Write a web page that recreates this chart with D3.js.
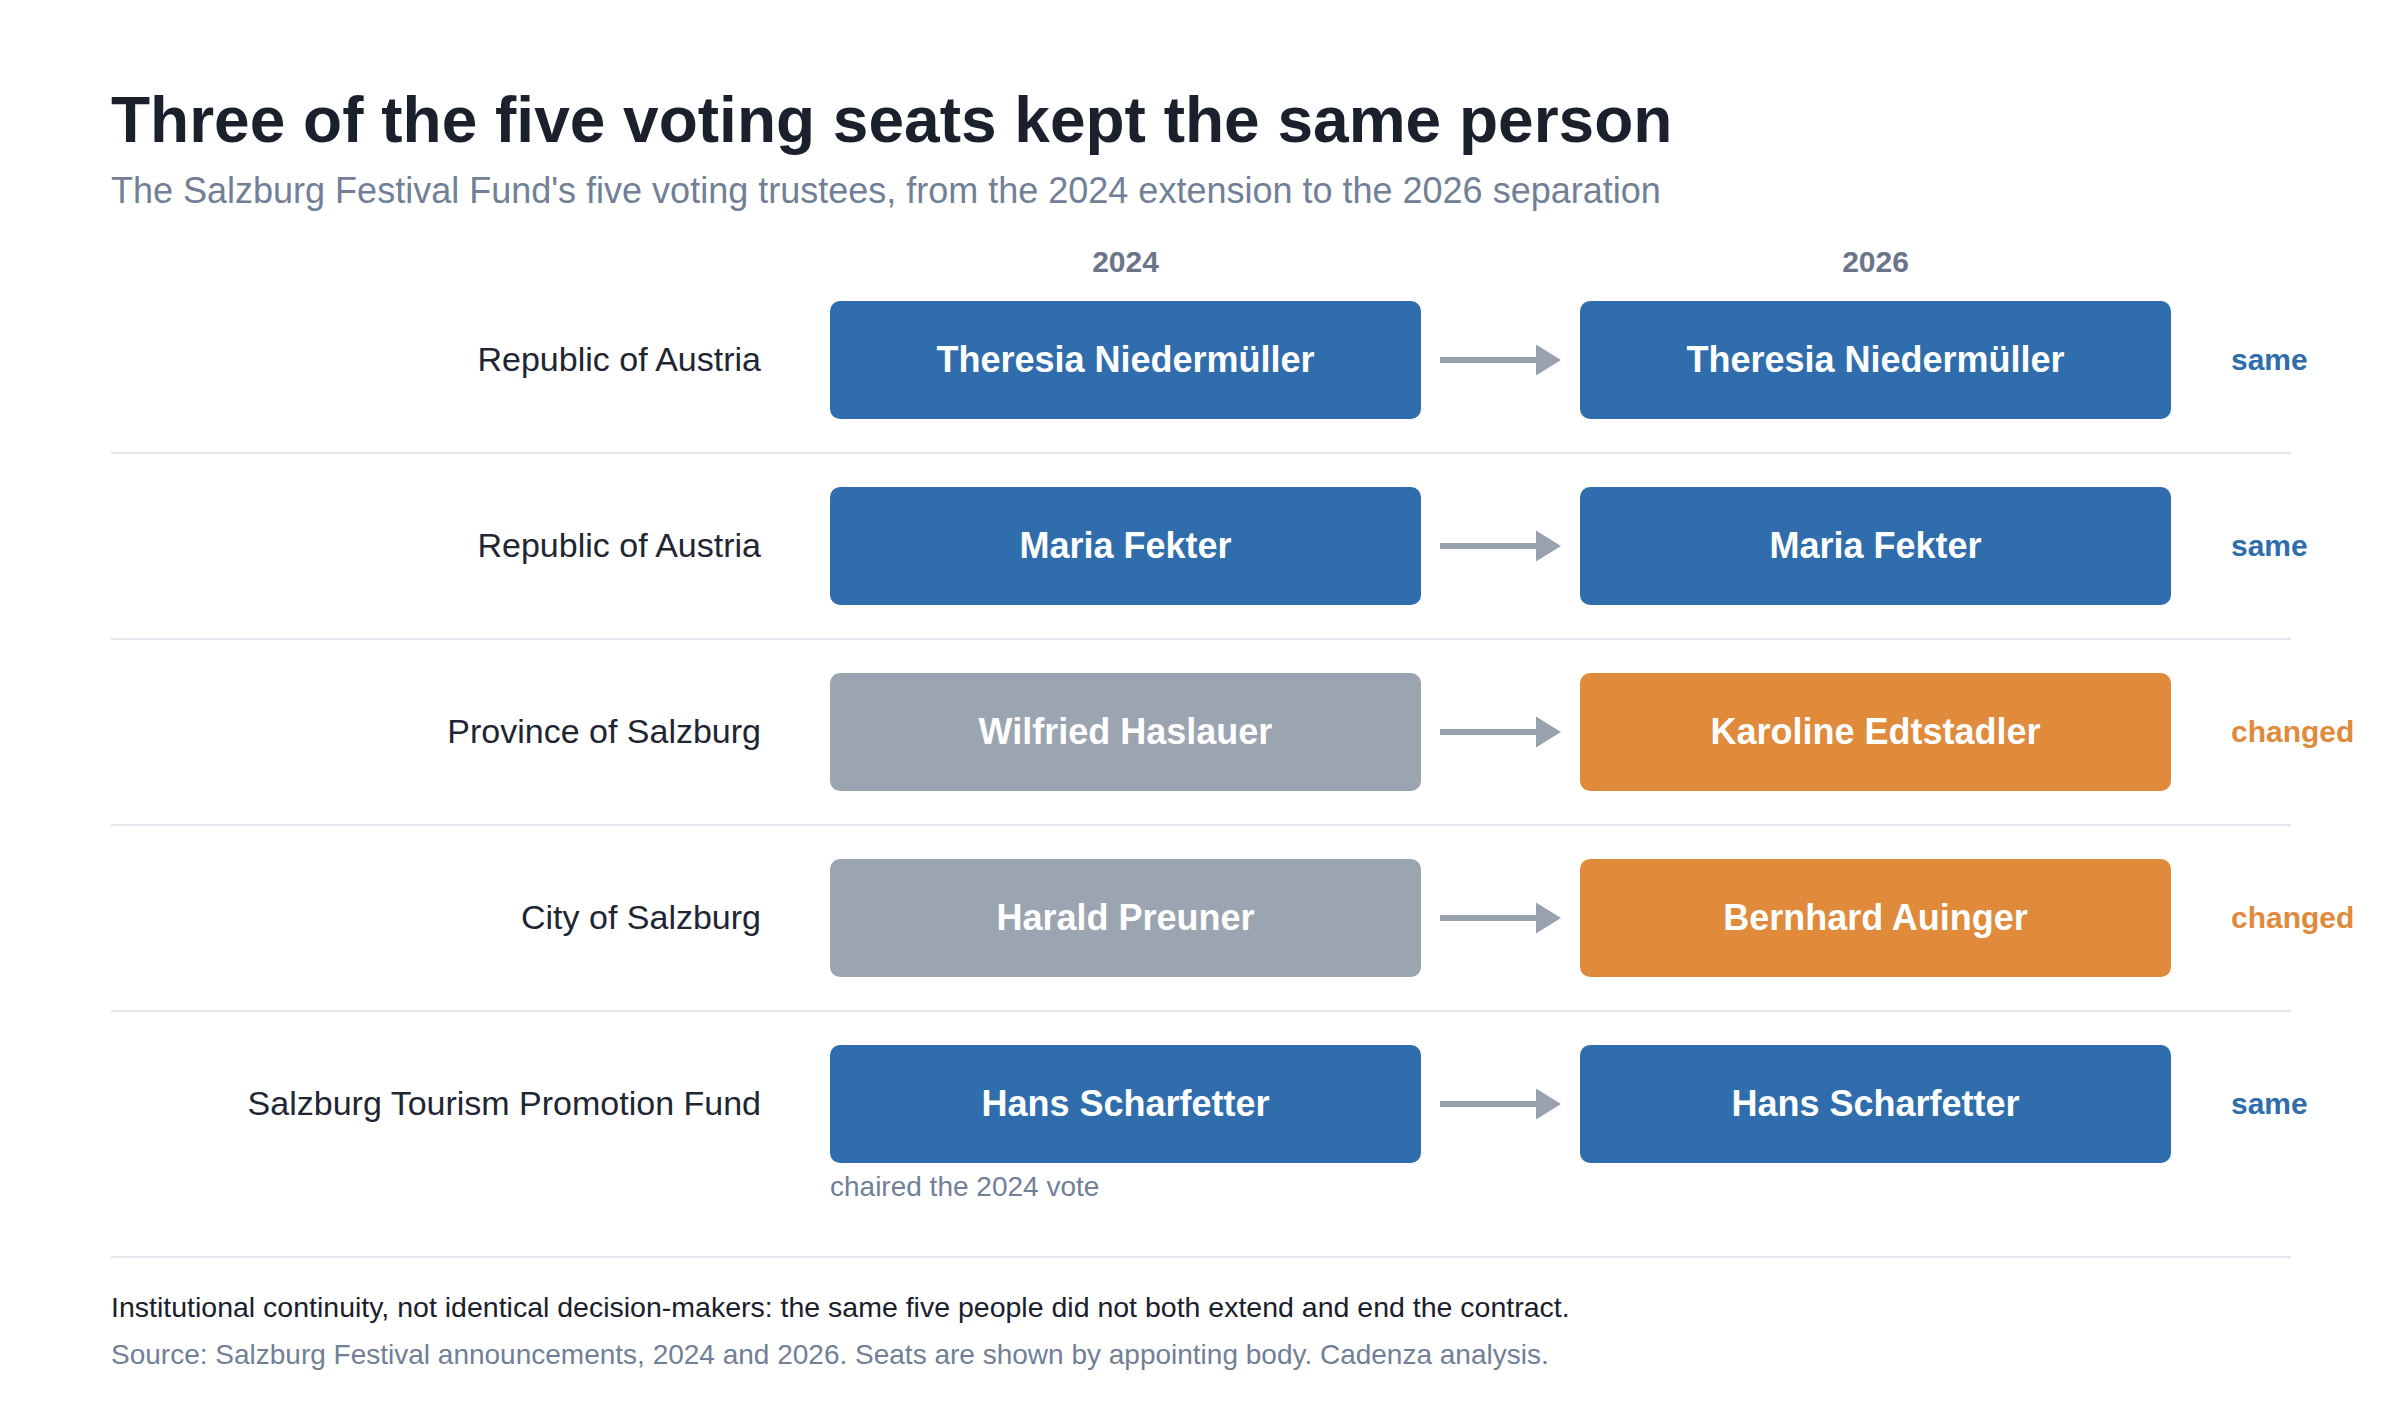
<!doctype html>
<html lang="en">
<head>
	<meta charset="utf-8">
	<title>Salzburg Festival Fund trustees</title>
	<script src="https://cdn.jsdelivr.net/npm/d3@7"></script>
	<style>
		body { margin: 0; background: #fff; }
		text { font-family: "Liberation Sans", Arial, Helvetica, sans-serif; }
	</style>
</head>
<body>
	<svg id="chart" width="2400" height="1420"></svg>
	<script>
		// seats by appointing body
		var bodies = ["Republic of Austria", "Republic of Austria", "Province of Salzburg", "City of Salzburg", "Salzburg Tourism Promotion Fund"];
		var trustees2024 = ["Theresia Niedermüller", "Maria Fekter", "Wilfried Haslauer", "Harald Preuner", "Hans Scharfetter"];
		var trustees2026 = ["Theresia Niedermüller", "Maria Fekter", "Karoline Edtstadler", "Bernhard Auinger", "Hans Scharfetter"];
		var seatStatus = ["same", "same", "changed", "changed", "same"];
		var years = ["2024", "2026"];
		var notes = ["", "", "", "", "chaired the 2024 vote"];

		var blue = "#2f6dac", grey = "#9ba5b1", orange = "#e08a3b";

		var svg = d3.select("#chart");

		// title block
		svg.append("text").attr("x", 111).attr("y", 142)
			.attr("font-size", 64).attr("font-weight", "bold").attr("fill", "#1a202c")
			.text("Three of the five voting seats kept the same person");
		svg.append("text").attr("x", 111).attr("y", 203)
			.attr("font-size", 36).attr("fill", "#718096")
			.text("The Salzburg Festival Fund's five voting trustees, from the 2024 extension to the 2026 separation");

		var rows = d3.range(bodies.length);
		var y = d3.scaleBand().domain(rows).range([267, 1197]).paddingInner(68 / 186).paddingOuter(34 / 186);
		var x = d3.scaleBand().domain(years).range([830, 2171]).paddingInner(159 / 750).paddingOuter(0);
		var bw = x.bandwidth(), bh = y.bandwidth();

		// column headers
		svg.selectAll(".year").data(years).enter().append("text")
			.attr("x", function(d) { return x(d) + bw / 2; })
			.attr("y", 272)
			.attr("text-anchor", "middle")
			.attr("font-size", 30).attr("font-weight", "bold").attr("fill", "#6b7589")
			.text(function(d) { return d; });

		// separators between rows, and one under the chart
		svg.selectAll(".sep").data(rows.slice(0, -1)).enter().append("line")
			.attr("x1", 111).attr("x2", 2291)
			.attr("y1", function(i) { return y(i) + bh + 34; })
			.attr("y2", function(i) { return y(i) + bh + 34; })
			.attr("stroke", "#e2e6ec").attr("stroke-width", 2);
		svg.append("line").attr("x1", 111).attr("x2", 2291).attr("y1", 1257).attr("y2", 1257)
			.attr("stroke", "#e2e6ec").attr("stroke-width", 2);

		var row = svg.selectAll(".row").data(rows).enter().append("g")
			.attr("transform", function(i) { return "translate(0," + y(i) + ")"; });

		// appointing body
		row.append("text")
			.attr("x", x("2024") - 69).attr("y", bh / 2).attr("dy", "0.33em")
			.attr("text-anchor", "end")
			.attr("font-size", 34).attr("fill", "#1f2633")
			.text(function(i) { return bodies[i]; });

		// 2024 box
		row.append("rect")
			.attr("x", x("2024")).attr("width", bw).attr("height", bh).attr("rx", 10)
			.attr("fill", function(i) { return seatStatus[i] == "same" ? blue : grey; });
		row.append("text")
			.attr("x", x("2024") + bw / 2).attr("y", bh / 2).attr("dy", "0.33em")
			.attr("text-anchor", "middle")
			.attr("font-size", 36).attr("font-weight", "bold").attr("fill", "#fff")
			.text(function(i) { return trustees2024[i]; });

		// 2026 box
		row.append("rect")
			.attr("x", x("2026")).attr("width", bw).attr("height", bh).attr("rx", 10)
			.attr("fill", function(i) { return seatStatus[i] == "same" ? blue : orange; });
		row.append("text")
			.attr("x", x("2026") + bw / 2).attr("y", bh / 2).attr("dy", "0.33em")
			.attr("text-anchor", "middle")
			.attr("font-size", 36).attr("font-weight", "bold").attr("fill", "#fff")
			.text(function(i) { return trustees2026[i]; });

		// arrow
		var ax0 = x("2024") + bw + 19, ax1 = x("2026") - 19;
		row.append("line")
			.attr("x1", ax0).attr("x2", ax1 - 24)
			.attr("y1", bh / 2).attr("y2", bh / 2)
			.attr("stroke", "#98a2ae").attr("stroke-width", 6);
		row.append("path")
			.attr("d", "M" + (ax1 - 25) + "," + (bh / 2 - 15.5) + "L" + ax1 + "," + (bh / 2) + "L" + (ax1 - 25) + "," + (bh / 2 + 15.5) + "Z")
			.attr("fill", "#98a2ae");

		// status
		row.append("text")
			.attr("x", x("2026") + bw + 60).attr("y", bh / 2).attr("dy", "0.33em")
			.attr("font-size", 30).attr("font-weight", "bold")
			.attr("fill", function(i) { return seatStatus[i] == "same" ? blue : orange; })
			.text(function(i) { return seatStatus[i]; });

		// note under a box
		row.append("text")
			.attr("x", x("2024")).attr("y", bh + 33)
			.attr("font-size", 28).attr("fill", "#718096")
			.text(function(i) { return notes[i]; });

		// footer
		svg.append("text").attr("x", 111).attr("y", 1317)
			.attr("font-size", 28.5).attr("fill", "#1a202c")
			.text("Institutional continuity, not identical decision-makers: the same five people did not both extend and end the contract.");
		svg.append("text").attr("x", 111).attr("y", 1364)
			.attr("font-size", 28).attr("fill", "#718096")
			.text("Source: Salzburg Festival announcements, 2024 and 2026. Seats are shown by appointing body. Cadenza analysis.");
	</script>
</body>
</html>
